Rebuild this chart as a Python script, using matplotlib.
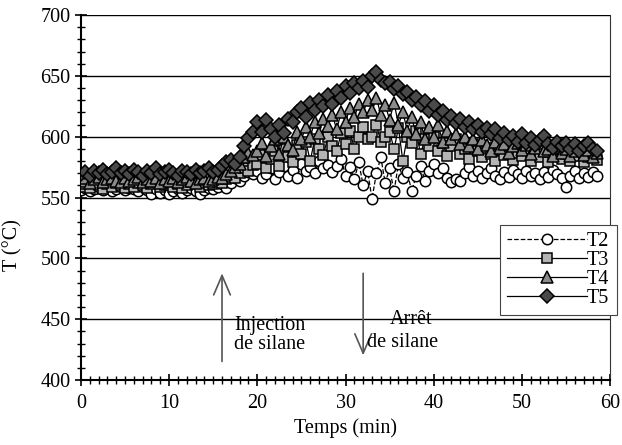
import numpy as np
import matplotlib
matplotlib.use('Agg')
import matplotlib.pyplot as plt
from matplotlib.ticker import MultipleLocator

plt.rcParams['font.family'] = ['Liberation Serif', 'DejaVu Serif']

# --- DONNÉES (temps en min, température en °C) ---
temps = np.arange(0, 59, 0.5)

t5 = [569, 571, 568, 572, 570, 573, 569, 571, 574, 570,
      572, 569, 573, 571, 568, 572, 570, 574, 569, 571,
      573, 570, 568, 572, 571, 569, 573, 570, 572, 574,
      571, 573, 576, 579, 581, 578, 583, 592, 599, 604,
      612, 604, 614, 606, 600, 610, 603, 615, 612, 620,
      624, 616, 628, 622, 630, 625, 634, 627, 638, 632,
      642, 636, 644, 640, 646, 641, 650, 653, 647, 644,
      645, 639, 642, 635, 637, 630, 633, 626, 629, 621,
      626, 618, 621, 614, 617, 611, 615, 608, 612, 606,
      610, 604, 607, 602, 606, 599, 603, 597, 601, 596,
      602, 595, 599, 593, 597, 601, 594, 591, 596, 592,
      595, 590, 594, 588, 592, 595, 590, 588]

t4 = [564, 566, 562, 565, 567, 563, 565, 566, 564, 563,
      566, 564, 565, 567, 563, 565, 564, 566, 562, 565,
      564, 566, 563, 565, 567, 564, 562, 565, 566, 564,
      565, 567, 566, 569, 572, 575, 578, 583, 587, 585,
      588, 595, 584, 592, 598, 586, 600, 593, 589, 604,
      598, 608, 600, 612, 603, 615, 609, 618, 606, 620,
      612, 624, 616, 627, 620, 630, 622, 632, 618, 626,
      614, 628, 610, 620, 605, 616, 602, 612, 598, 608,
      600, 610, 596, 605, 598, 602, 594, 600, 592, 598,
      590, 597, 593, 588, 596, 591, 594, 587, 592, 595,
      589, 593, 586, 591, 595, 588, 590, 584, 592, 587,
      590, 584, 588, 592, 585, 589, 583, 587]

t3 = [559, 561, 558, 562, 560, 557, 561, 559, 562, 560,
      558, 561, 559, 562, 560, 558, 561, 563, 559, 560,
      562, 559, 561, 558, 560, 563, 561, 559, 562, 560,
      561, 563, 562, 565, 567, 566, 570, 574, 572, 577,
      578, 585, 574, 582, 588, 576, 590, 583, 579, 593,
      586, 596, 580, 598, 590, 585, 600, 592, 588, 603,
      594, 605, 590, 600, 608, 598, 600, 610, 596, 600,
      604, 590, 607, 580, 600, 595, 605, 586, 598, 592,
      600, 588, 595, 584, 592, 598, 586, 590, 582, 594,
      588, 583, 591, 586, 580, 589, 585, 592, 581, 587,
      584, 590, 580, 586, 583, 588, 579, 585, 590, 582,
      586, 580, 584, 588, 579, 583, 586, 581]

t2 = [556, 558, 555, 557, 559, 556, 558, 555, 557, 559,
      556, 558, 557, 555, 559, 556, 553, 557, 554, 556,
      553, 555, 557, 554, 556, 558, 555, 553, 556, 558,
      557, 559, 561, 558, 562, 566, 564, 568, 571, 569,
      572, 566, 569, 574, 565, 571, 576, 568, 573, 566,
      578, 572, 575, 570, 580, 574, 577, 571, 576, 582,
      568, 575, 565, 579, 560, 572, 549, 570, 583, 562,
      574, 555, 578, 566, 571, 555, 568, 576, 564, 572,
      578, 570, 574, 566, 563, 565, 564, 570, 575, 568,
      572, 566, 570, 574, 568, 565, 571, 567, 573, 569,
      566, 572, 568, 570, 565, 571, 567, 573, 569, 566,
      559, 568, 572, 566, 570, 567, 571, 568]

fig = plt.figure(figsize=(6.22, 4.45), dpi=100)
ax = fig.add_axes([0.130, 0.146, 0.851, 0.820])

ax.plot(temps, t2, ls='--', lw=0.9, color='black', marker='o', ms=7.5,
        mfc='white', mec='black', mew=1.1, label='T2', zorder=3)
ax.plot(temps, t3, ls='-', lw=0.9, color='black', marker='s', ms=7,
        mfc='#b4b4b4', mec='black', mew=1.1, label='T3', zorder=4)
ax.plot(temps, t4, ls='-', lw=0.9, color='black', marker='^', ms=8,
        mfc='#8c8c8c', mec='black', mew=1.1, label='T4', zorder=5)
ax.plot(temps, t5, ls='-', lw=0.9, color='black', marker='D', ms=7,
        mfc='#4a4a4a', mec='black', mew=1.1, label='T5', zorder=6)

ax.set_xlim(0, 60)
ax.set_ylim(400, 700)
ax.xaxis.set_major_locator(MultipleLocator(10))
ax.xaxis.set_minor_locator(MultipleLocator(1))
ax.yaxis.set_major_locator(MultipleLocator(50))
ax.yaxis.set_minor_locator(MultipleLocator(10))
ax.tick_params(which='major', direction='inout', length=8, width=1.2, labelsize=14.5)
ax.tick_params(which='minor', direction='inout', length=6, width=1.0)
ax.tick_params(axis='x', pad=6)

ax.grid(True, which='major', axis='y', color='black', lw=1.0, zorder=1)
for s in ['left', 'bottom']:
    ax.spines[s].set_linewidth(1.5)
ax.spines['top'].set_visible(False)
ax.spines['right'].set_color('#333333')

ax.set_xlabel('Temps (min)', fontsize=14.5)
ax.set_ylabel('T (°C)', fontsize=14.5)
ax.yaxis.set_label_coords(-0.11, 0.37)

# Flèches
fleche = dict(arrowstyle='->, head_length=1.4, head_width=0.6',
              color='#555555', lw=1.2)
ax.annotate('', xy=(16, 490), xytext=(16, 413), arrowprops=fleche)
ax.annotate('', xy=(32, 418), xytext=(32, 490), arrowprops=fleche)
ax.text(17.4, 437, 'Injection\nde silane', fontsize=14.5, ha='left', va='center',
        linespacing=1.0)
ax.text(37.4, 450, 'Arrêt', fontsize=14.5, ha='center', va='center')
ax.text(32.4, 431, 'de silane', fontsize=14.5, ha='left', va='center')

leg = ax.legend(loc='upper right', bbox_to_anchor=(1.012, 0.425), fontsize=14.5,
                handlelength=4.0, handletextpad=0.0, labelspacing=0.0,
                borderpad=0.35, borderaxespad=0, fancybox=False, framealpha=1,
                edgecolor='#444444')
leg.get_frame().set_linewidth(0.8)
leg.set_zorder(10)

fig.savefig('out.png', dpi=100)
